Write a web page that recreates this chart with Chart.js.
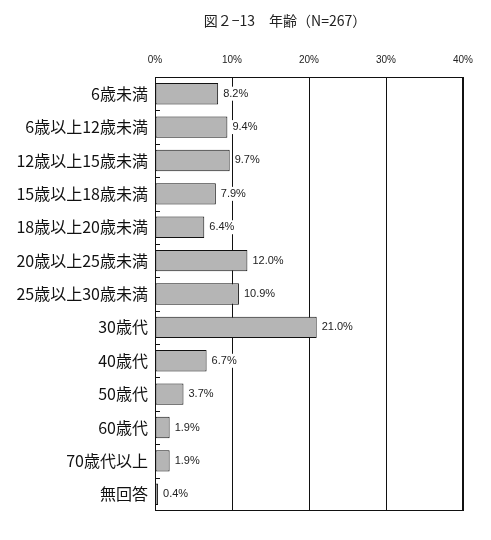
<!DOCTYPE html>
<html lang="ja">
<head>
<meta charset="utf-8">
<script src="https://cdn.jsdelivr.net/npm/chart.js@4"></script>
<style>
  body { margin: 0; background: #fff; }
  #wrap { position: relative; width: 491px; height: 540px; }
  #title { position: absolute; top: 10px; left: 165px; width: 240px; text-align: center;
           font: 14px "Noto Sans CJK JP", sans-serif; color: #222; }
</style>
</head>
<body>
<div id="wrap">
  <div id="title">図２−13　年齢（N=267）</div>
  <canvas id="grafico" width="491" height="540"></canvas>
</div>
<script>
// dados
const categorias = ['6歳未満', '6歳以上12歳未満', '12歳以上15歳未満', '15歳以上18歳未満', '18歳以上20歳未満',
    '20歳以上25歳未満', '25歳以上30歳未満', '30歳代', '40歳代', '50歳代', '60歳代', '70歳代以上', '無回答'];
const valores = [8.2, 9.4, 9.7, 7.9, 6.4, 12.0, 10.9, 21.0, 6.7, 3.7, 1.9, 1.9, 0.4];
const ticksX = [0, 10, 20, 30, 40];

const fonteJP = '"Noto Sans CJK JP", sans-serif';
const fonteNum = '"Liberation Sans", Arial, sans-serif';

// moldura + marquinhas do eixo y + rótulos dos valores
const extras = {
    id: 'extras',
    afterDatasetsDraw(chart) {
        const { ctx, chartArea: a, scales: { x, y } } = chart;
        ctx.save();
        ctx.strokeStyle = '#111';
        ctx.lineWidth = 1;
        ctx.strokeRect(a.left + 0.5, a.top + 0.5, a.right - a.left - 1, a.bottom - a.top - 1);
        const passo = y.getPixelForValue(1) - y.getPixelForValue(0);
        ctx.beginPath();
        for (let i = 1; i < categorias.length; i++) {
            const py = Math.round(y.getPixelForValue(i) - passo / 2) + 0.5;
            ctx.moveTo(a.left, py);
            ctx.lineTo(a.left + 5, py);
        }
        ctx.stroke();

        ctx.font = '11px ' + fonteNum;
        ctx.textBaseline = 'middle';
        valores.forEach((v, i) => {
            const txt = v.toFixed(1) + '%';
            const px = x.getPixelForValue(v) + 5;
            const py = y.getPixelForValue(i);
            const w = ctx.measureText(txt).width;
            ctx.fillStyle = '#fff';
            ctx.fillRect(px - 1, py - 7, w + 2, 14);
            ctx.fillStyle = '#222';
            ctx.fillText(txt, px, py);
        });
        ctx.restore();
    }
};

new Chart(document.getElementById('grafico'), {
    type: 'bar',
    data: {
        labels: categorias,
        datasets: [{
            data: valores,
            backgroundColor: '#b5b5b5',
            borderColor: '#111',
            borderWidth: 1,
            borderSkipped: false,
            barPercentage: 0.64,
            categoryPercentage: 1
        }]
    },
    options: {
        indexAxis: 'y',
        responsive: false,
        animation: false,
        layout: { padding: { top: 0, right: 28, bottom: 29, left: 0 } },
        plugins: { legend: { display: false }, tooltip: { enabled: false } },
        scales: {
            x: {
                position: 'top',
                min: 0,
                max: 40,
                afterBuildTicks: (s) => { s.ticks = ticksX.map(v => ({ value: v })); },
                afterFit: (s) => { s.height = 77; },
                grid: { color: '#111', lineWidth: 1, drawTicks: false },
                border: { display: false },
                ticks: {
                    padding: 11,
                    color: '#222',
                    font: { size: 10, family: fonteNum },
                    callback: (v) => v + '%'
                }
            },
            y: {
                afterFit: (s) => { s.width = 155; },
                grid: { display: false, drawTicks: false },
                border: { display: false },
                ticks: {
                    padding: 7,
                    color: '#111',
                    font: { size: 16, family: fonteJP }
                }
            }
        }
    },
    plugins: [extras]
});
</script>
</body>
</html>
